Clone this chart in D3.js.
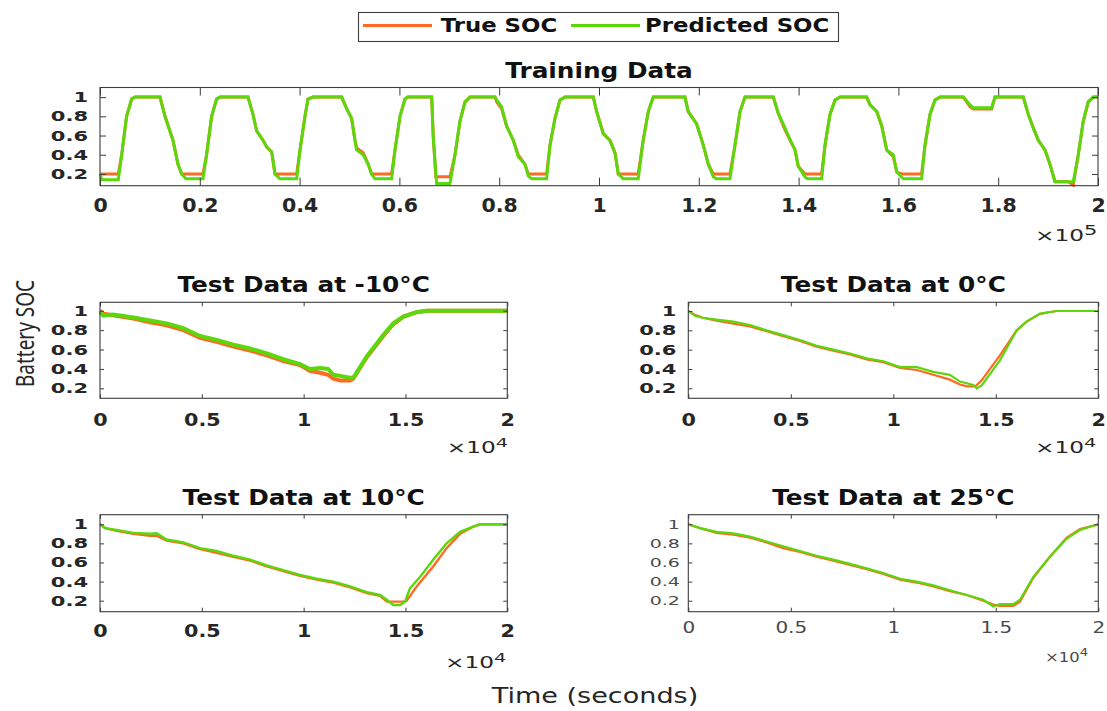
<!DOCTYPE html>
<html>
<head>
<meta charset="utf-8">
<script src="https://cdn.jsdelivr.net/npm/d3@7"></script>
<style>
  body { margin: 0; background: #fff; }
  svg { display: block; }
</style>
</head>
<body>
<svg id="fig" width="1107" height="711"></svg>
<script>
// ---- Data: [time in seconds, state of charge] ----
const trainTrue = [
  [0,0.2],[3670,0.2],[4350,0.4],[5330,0.8],[6350,0.98],[7010,1],[12020,1],[13030,0.8],[14630,0.55],[15630,0.3],[16370,0.2],
  [20640,0.2],[21360,0.4],[22370,0.8],[23370,0.98],[24050,1],[29660,1],[30660,0.82],[31380,0.65],[32670,0.55],[33410,0.48],[34410,0.43],[35070,0.2],
  [39420,0.2],[40080,0.45],[41080,0.8],[41680,0.98],[42690,1],[48440,1],[49420,0.88],[50420,0.78],[51100,0.55],[51420,0.47],[52750,0.42],[53760,0.3],[54430,0.2],
  [58440,0.2],[59120,0.45],[60120,0.8],[61120,0.98],[61720,1],[66470,1],[66790,0.58],[67300,0.17],
  [70140,0.17],[71140,0.4],[72140,0.75],[73150,0.95],[74150,1],[79160,1],[79480,0.95],[80480,0.88],[81480,0.7],[82820,0.55],[83820,0.4],[85170,0.3],[85830,0.2],
  [89500,0.2],[90180,0.5],[91180,0.78],[92180,0.97],[93190,1],[98860,1],[99530,0.85],[100860,0.62],[102200,0.55],[103210,0.42],[103860,0.2],
  [107860,0.2],[108860,0.55],[109880,0.85],[110880,1],[117230,1],[117880,0.85],[119570,0.72],[120900,0.5],[121910,0.3],[122910,0.2],
  [126250,0.2],[127250,0.5],[128260,0.85],[129260,1],[134930,1],[135930,0.83],[137270,0.66],[138610,0.52],[139280,0.45],[139930,0.28],[141280,0.2],
  [144620,0.2],[145290,0.5],[146290,0.82],[147300,0.97],[148300,1],[153640,1],[154320,0.92],[155660,0.85],[156660,0.7],[157660,0.45],[158990,0.38],[159670,0.22],[160700,0.2],
  [164650,0.2],[165330,0.5],[166330,0.82],[167330,0.97],[168340,1],[173010,1],[174350,0.9],[175010,0.875],[178680,0.875],[179360,1],
  [185030,1],[186030,0.82],[187030,0.68],[188040,0.55],[189380,0.45],[190380,0.3],[191380,0.12],[194000,0.12],[195050,0.085],
  [196050,0.4],[197050,0.75],[198050,0.95],[199060,1],[200000,1]
];
const trainPred = [
  [0,0.2],[400,0.14],[3670,0.14],[4350,0.4],[5330,0.8],[6350,0.98],[7010,1],[12020,1],[13030,0.8],[14630,0.55],[15630,0.3],[16370,0.2],[17230,0.15],
  [20640,0.15],[21360,0.4],[22370,0.8],[23370,0.98],[24050,1],[29660,1],[30660,0.82],[31380,0.65],[32670,0.55],[33410,0.48],[34410,0.43],[35070,0.2],[36070,0.15],
  [39420,0.15],[40080,0.45],[41080,0.8],[41680,0.98],[42690,1],[48440,1],[49420,0.88],[50420,0.78],[51100,0.55],[51420,0.45],[52750,0.4],[53760,0.3],[54430,0.2],[55110,0.15],
  [58440,0.15],[59120,0.45],[60120,0.8],[61120,0.98],[61720,1],[66470,1],[66790,0.58],[67460,0.1],
  [70140,0.1],[71140,0.4],[72140,0.75],[73150,0.95],[74150,1],[79160,1],[79480,0.97],[80480,0.9],[81480,0.7],[82820,0.55],[83820,0.38],[85170,0.3],[85830,0.18],[86490,0.15],
  [89500,0.15],[90180,0.5],[91180,0.78],[92180,0.97],[93190,1],[98860,1],[99530,0.85],[100860,0.62],[102200,0.55],[103210,0.42],[103860,0.2],[104860,0.15],
  [107860,0.15],[108860,0.55],[109880,0.85],[110880,1],[117230,1],[117880,0.85],[119570,0.72],[120900,0.5],[121910,0.3],[122910,0.17],[123500,0.15],
  [126250,0.15],[127250,0.5],[128260,0.85],[129260,1],[134930,1],[135930,0.83],[137270,0.68],[138610,0.52],[139280,0.45],[139930,0.28],[141280,0.17],[141800,0.15],
  [144620,0.15],[145290,0.5],[146290,0.82],[147300,0.97],[148300,1],[153640,1],[154320,0.92],[155660,0.85],[156660,0.7],[157660,0.45],[158990,0.4],[159670,0.22],[160990,0.15],
  [164650,0.15],[165330,0.5],[166330,0.82],[167330,0.97],[168340,1],[173010,1],[174350,0.92],[175010,0.89],[178680,0.89],[179360,1],
  [185030,1],[186030,0.82],[187030,0.68],[188040,0.55],[189380,0.45],[190380,0.3],[191380,0.12],[195050,0.12],
  [196050,0.4],[197050,0.75],[198050,0.95],[199060,1],[200000,1]
];

const testM10True = [
  [0,1.0],[160,0.97],[700,0.95],[1640,0.92],[2450,0.88],[3270,0.85],[4090,0.8],[4910,0.72],[5730,0.68],[6550,0.63],[7370,0.59],
  [8190,0.54],[9000,0.48],[9820,0.44],[10300,0.38],[10800,0.36],[11200,0.34],[11460,0.3],[11800,0.28],[12280,0.28],[12440,0.3],
  [13100,0.52],[13910,0.74],[14400,0.86],[14900,0.94],[15550,0.985],[16040,1],[20000,1]
];
const testM10Pred = [
  [0,0.99],[160,0.95],[650,0.96],[1640,0.93],[2450,0.9],[3270,0.87],[4090,0.82],[4910,0.74],[5730,0.7],[6550,0.65],[7370,0.61],
  [8190,0.56],[9000,0.5],[9820,0.45],[10300,0.4],[10800,0.41],[11200,0.4],[11460,0.34],[12280,0.31],[12440,0.31],
  [13100,0.53],[13910,0.75],[14400,0.87],[14900,0.94],[15550,0.985],[16040,1],[20000,1]
];

const test0True = [
  [0,1.0],[330,0.96],[700,0.93],[1380,0.9],[2200,0.87],[3010,0.84],[3820,0.79],[4630,0.74],[5450,0.69],[6260,0.63],[7070,0.59],
  [7890,0.55],[8700,0.5],[9510,0.47],[10330,0.41],[11140,0.39],[11950,0.34],[12760,0.29],[13250,0.24],[13600,0.22],[14000,0.22],
  [14300,0.28],[15200,0.54],[16020,0.8],[16500,0.89],[17150,0.97],[17640,0.99],[17970,1],[20000,1]
];
const test0Pred = [
  [0,1.0],[330,0.95],[700,0.93],[1380,0.91],[2200,0.89],[3010,0.855],[3820,0.8],[4630,0.75],[5450,0.7],[6260,0.64],[7070,0.6],
  [7890,0.56],[8700,0.51],[9510,0.48],[10330,0.42],[11140,0.42],[11950,0.37],[12760,0.34],[13250,0.27],[13900,0.235],[14070,0.2],
  [14310,0.23],[15200,0.49],[16020,0.8],[16500,0.89],[17150,0.97],[17640,0.99],[17970,1],[20000,1]
];

const test10True = [
  [0,1.0],[250,0.96],[820,0.93],[1640,0.9],[2460,0.88],[2780,0.88],[3270,0.83],[4090,0.8],[4910,0.74],[5730,0.7],[6550,0.66],
  [7370,0.62],[8190,0.56],[9000,0.51],[9820,0.46],[10640,0.42],[11460,0.39],[12280,0.34],[13100,0.28],[13750,0.25],[14080,0.19],
  [14900,0.19],[15060,0.2],[15550,0.35],[16370,0.56],[17020,0.75],[17680,0.9],[18330,0.975],[18660,1],[20000,1]
];
const test10Pred = [
  [0,1.0],[250,0.96],[820,0.94],[1640,0.91],[2460,0.9],[2780,0.905],[3270,0.84],[4090,0.81],[4910,0.75],[5730,0.72],[6550,0.67],
  [7370,0.63],[8190,0.57],[9000,0.52],[9820,0.47],[10640,0.43],[11460,0.4],[12280,0.35],[13100,0.29],[13750,0.26],[14080,0.21],
  [14400,0.155],[14730,0.155],[14980,0.19],[15220,0.33],[15720,0.45],[16370,0.63],[17020,0.8],[17680,0.92],[18330,0.975],[18660,1],[20000,1]
];

const test25True = [
  [0,1.0],[570,0.96],[1380,0.91],[2200,0.89],[3010,0.86],[3820,0.81],[4630,0.75],[5450,0.71],[6260,0.66],[7070,0.62],[7890,0.575],
  [8700,0.53],[9510,0.48],[10330,0.42],[11140,0.39],[11950,0.35],[12760,0.3],[13580,0.26],[14390,0.2],[14880,0.16],[15200,0.145],
  [15850,0.145],[16180,0.19],[16830,0.44],[17640,0.66],[18460,0.86],[19110,0.95],[19760,0.985],[20000,1]
];
const test25Pred = [
  [0,1.0],[570,0.96],[1380,0.92],[2200,0.905],[3010,0.87],[3820,0.82],[4630,0.77],[5450,0.72],[6260,0.67],[7070,0.63],[7890,0.585],
  [8700,0.54],[9510,0.49],[10330,0.43],[11140,0.4],[11950,0.36],[12760,0.31],[13580,0.26],[14390,0.21],[14880,0.14],[15200,0.165],
  [15850,0.165],[16180,0.21],[16830,0.45],[17640,0.66],[18460,0.85],[19110,0.94],[19760,0.985],[20000,1]
];

// ---- Axis ticks ----
const trainTimeTicks = [0, 20000, 40000, 60000, 80000, 100000, 120000, 140000, 160000, 180000, 200000];
const testTimeTicks = [0, 5000, 10000, 15000, 20000];
const socTicks = [0.2, 0.4, 0.6, 0.8, 1];

const seriesNames = ["True SOC", "Predicted SOC"];
const panelTitles = ["Training Data", "Test Data at -10°C", "Test Data at 0°C", "Test Data at 10°C", "Test Data at 25°C"];

// ---- Styling ----
const TRUE_COLOR = "#ff6a22";
const PRED_COLOR = "#5bd80c";
const AXIS_COLOR = "#3c3c3c";
const TEXT_COLOR = "#262626";
const FONT = "'DejaVu Sans', sans-serif";

const svg = d3.select("#fig");

// Horizontally widen a text selection around its own anchor.
function widen(sel, sx) {
  sel.each(function () {
    const t = d3.select(this);
    const x = +t.attr("x") || 0;
    t.attr("x", x / sx).attr("transform", `scale(${sx},1)`);
  });
}

const fmt = v => String(+v.toFixed(2));

const panels = [
  { title: panelTitles[0], tru: trainTrue, pred: trainPred, xMax: 200000, unit: 1e5, exp: "5", xTicks: trainTimeTicks,
    x0: 100, x1: 1098, y0: 87.5, y1: 185.7, yDom: [0.078, 1.1], lw: 3, titleY: 78.3,
    xLabelOff: 26, xFont: 19.5, xSx: 1.05, yFont: 14, ySx: 1.5, yPad: 12, weight: "bold", tickColor: TEXT_COLOR,
    tickX: 8, tickY: 6, expX: 1035, expY: 241, expFont: 15, expSx: 1.55, supFont: 13.5 },
  { title: panelTitles[1], tru: testM10True, pred: testM10Pred, xMax: 20000, unit: 1e4, exp: "4", xTicks: testTimeTicks,
    x0: 100, x1: 507.3, y0: 302.3, y1: 398.3, yDom: [0.097, 1.087], lw: 4, titleY: 291.7,
    xLabelOff: 27.4, xFont: 18, xSx: 1.15, yFont: 14, ySx: 1.5, yPad: 12, weight: "bold", tickColor: TEXT_COLOR,
    tickX: 4, tickY: 4, expX: 446.7, expY: 453.3, expFont: 15, expSx: 1.55, supFont: 12.5 },
  { title: panelTitles[2], tru: test0True, pred: test0Pred, xMax: 20000, unit: 1e4, exp: "4", xTicks: testTimeTicks,
    x0: 688.3, x1: 1098.3, y0: 302.3, y1: 398.3, yDom: [0.097, 1.09], lw: 2.2, titleY: 291.7,
    xLabelOff: 27.4, xFont: 18, xSx: 1.15, yFont: 14, ySx: 1.5, yPad: 12, weight: "bold", tickColor: TEXT_COLOR,
    tickX: 4, tickY: 4, expX: 1035, expY: 453.3, expFont: 15, expSx: 1.55, supFont: 12.5 },
  { title: panelTitles[3], tru: test10True, pred: test10Pred, xMax: 20000, unit: 1e4, exp: "4", xTicks: testTimeTicks,
    x0: 100, x1: 507.3, y0: 514.7, y1: 611.7, yDom: [0.085, 1.1], lw: 2.4, titleY: 505,
    xLabelOff: 25.6, xFont: 18, xSx: 1.15, yFont: 14, ySx: 1.5, yPad: 12, weight: "bold", tickColor: TEXT_COLOR,
    tickX: 4, tickY: 4, expX: 445, expY: 668.3, expFont: 15, expSx: 1.55, supFont: 12.5 },
  { title: panelTitles[4], tru: test25True, pred: test25Pred, xMax: 20000, unit: 1e4, exp: "4", xTicks: testTimeTicks,
    x0: 688.3, x1: 1098.3, y0: 514.7, y1: 611.7, yDom: [0.085, 1.1], lw: 2.2, titleY: 505,
    xLabelOff: 21.6, xFont: 15.5, xSx: 1.29, yFont: 12.8, ySx: 1.48, yPad: 8.5, weight: "normal", tickColor: "#4a4a4a",
    tickX: 4, tickY: 4, expX: 1045, expY: 661.7, expFont: 13.7, expSx: 1.2, supFont: 11 }
];

function drawPanel(p) {
  const x = d3.scaleLinear().domain([0, p.xMax]).range([p.x0, p.x1]);
  const y = d3.scaleLinear().domain(p.yDom).range([p.y1, p.y0]);
  const g = svg.append("g");

  const line = d3.line().x(d => x(d[0])).y(d => y(d[1]));
  g.append("path").datum(p.tru).attr("d", line)
    .attr("fill", "none").attr("stroke", TRUE_COLOR).attr("stroke-width", p.lw);
  g.append("path").datum(p.pred).attr("d", line)
    .attr("fill", "none").attr("stroke", PRED_COLOR).attr("stroke-width", p.lw);

  // bottom axis with labels
  const xb = g.append("g").attr("transform", `translate(0,${p.y1})`)
    .call(d3.axisBottom(x).tickValues(p.xTicks).tickSize(-p.tickX).tickFormat(d => fmt(d / p.unit)));
  // top, left, right ticks (inward)
  g.append("g").attr("transform", `translate(0,${p.y0})`)
    .call(d3.axisTop(x).tickValues(p.xTicks).tickSize(-p.tickX).tickFormat(""));
  const yl = g.append("g").attr("transform", `translate(${p.x0},0)`)
    .call(d3.axisLeft(y).tickValues(socTicks).tickSize(-p.tickY).tickPadding(p.yPad).tickFormat(d => fmt(d)));
  g.append("g").attr("transform", `translate(${p.x1},0)`)
    .call(d3.axisRight(y).tickValues(socTicks).tickSize(-p.tickY).tickFormat(""));

  g.selectAll(".domain").remove();
  g.selectAll(".tick line").attr("stroke", AXIS_COLOR).attr("stroke-width", 1);

  xb.selectAll("text")
    .attr("y", p.xLabelOff).attr("dy", null)
    .attr("fill", p.tickColor).style("font-family", FONT)
    .style("font-size", p.xFont + "px").style("font-weight", p.weight);
  widen(xb.selectAll("text"), p.xSx);

  yl.selectAll("text")
    .attr("fill", p.tickColor).style("font-family", FONT)
    .style("font-size", p.yFont + "px").style("font-weight", p.weight);
  widen(yl.selectAll("text"), p.ySx);

  // axes box
  g.append("rect")
    .attr("x", p.x0).attr("y", p.y0)
    .attr("width", p.x1 - p.x0).attr("height", p.y1 - p.y0)
    .attr("fill", "none").attr("stroke", AXIS_COLOR).attr("stroke-width", 1.1);

  // title
  g.append("text")
    .attr("transform", `translate(${(p.x0 + p.x1) / 2},${p.titleY}) scale(1.18,1)`)
    .attr("text-anchor", "middle")
    .style("font-family", FONT).style("font-size", "21px").style("font-weight", "bold")
    .attr("fill", "#111").text(p.title);

  // exponent multiplier
  const ex = g.append("text")
    .attr("transform", `translate(${p.expX},${p.expY}) scale(${p.expSx},1)`)
    .style("font-family", FONT).style("font-weight", "normal")
    .style("font-size", p.expFont + "px").attr("fill", p.tickColor);
  ex.append("tspan").text("×10");
  ex.append("tspan").attr("dy", -6).style("font-size", p.supFont + "px").text(p.exp);
}

panels.forEach(drawPanel);

// ---- Legend ----
const legend = svg.append("g");
legend.append("rect")
  .attr("x", 358.5).attr("y", 12.5).attr("width", 480).attr("height", 29)
  .attr("fill", "#fff").attr("stroke", AXIS_COLOR).attr("stroke-width", 1.1);
const legendItems = [
  { name: seriesNames[0], color: TRUE_COLOR, lx: 363, tx: 440.7 },
  { name: seriesNames[1], color: PRED_COLOR, lx: 571, tx: 645 }
];
legendItems.forEach(it => {
  legend.append("line")
    .attr("x1", it.lx).attr("x2", it.lx + 69).attr("y1", 25.5).attr("y2", 25.5)
    .attr("stroke", it.color).attr("stroke-width", 3);
  legend.append("text")
    .attr("transform", `translate(${it.tx},32.3) scale(1.14,1)`)
    .style("font-family", FONT).style("font-size", "20px").style("font-weight", "bold")
    .attr("fill", "#111").text(it.name);
});

// ---- Shared axis labels ----
svg.append("text")
  .attr("transform", "translate(595,703.3) scale(1.32,1)")
  .attr("text-anchor", "middle")
  .style("font-family", FONT).style("font-size", "20.5px")
  .attr("fill", TEXT_COLOR).text("Time (seconds)");

svg.append("text")
  .attr("transform", "translate(25,333.5) scale(1.3,1) rotate(-90)")
  .attr("text-anchor", "middle").attr("dy", "0.36em")
  .style("font-family", "'Noto Sans', sans-serif").style("font-size", "19px")
  .attr("fill", TEXT_COLOR).text("Battery SOC");
</script>
</body>
</html>
